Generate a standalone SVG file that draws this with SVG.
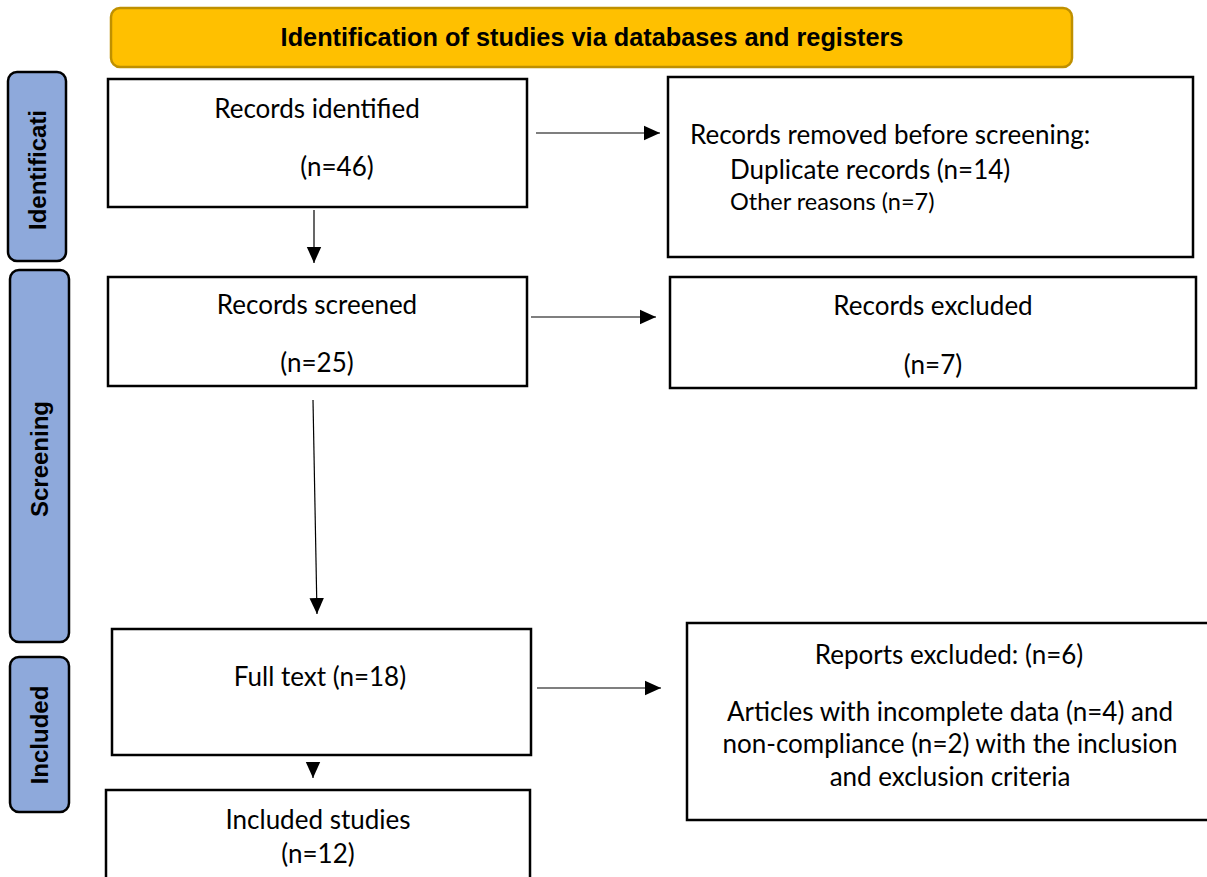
<svg xmlns="http://www.w3.org/2000/svg" width="1207" height="877" viewBox="0 0 1207 877">
<style>
.box{fill:#fff;stroke:#000;stroke-width:2.5}
.phase{fill:#8EA9DB;stroke:#000;stroke-width:2.5}
.t{font-family:Lato,"Liberation Sans",sans-serif;font-size:26px;fill:#000}
.c{text-anchor:middle}
.ph{font-family:"Liberation Sans",Arial,sans-serif;font-weight:bold;font-size:24px;fill:#000;text-anchor:middle}
.ln{stroke:#000;stroke-width:1.2;fill:none}
</style>
<defs>
<marker id="ahb" viewBox="0 0 10 10" refX="10" refY="5" markerWidth="16" markerHeight="16" orient="auto" markerUnits="userSpaceOnUse">
<path d="M0,0.5 L10,5 L0,9.5 z" fill="#000"/>
</marker>
</defs>
<rect width="1207" height="877" fill="#fff"/>
<g id="banner">
<rect x="111" y="8" width="961" height="59" rx="9" fill="#FFC000" stroke="#BF9000" stroke-width="2.5"/>
<text x="592" y="46" class="ph" style="font-size:25.3px">Identification of studies via databases and registers</text>
</g>
<g id="phase-identification">
<rect class="phase" x="8" y="72" width="58" height="189" rx="9"/>
<text class="ph" transform="translate(46,170) rotate(-90)">Identificati</text>
</g>
<g id="phase-screening">
<rect class="phase" x="10" y="270" width="59" height="372" rx="9"/>
<text class="ph" transform="translate(48,459) rotate(-90)">Screening</text>
</g>
<g id="phase-included">
<rect class="phase" x="10" y="657" width="59" height="155" rx="9"/>
<text class="ph" transform="translate(48,735) rotate(-90)">Included</text>
</g>
<g id="connectors">
<line class="ln" x1="314" y1="210" x2="314" y2="263" marker-end="url(#ahb)"/>
<line class="ln" x1="536" y1="133" x2="660" y2="133" marker-end="url(#ahb)"/>
<line class="ln" x1="531" y1="317" x2="656" y2="317" marker-end="url(#ahb)"/>
<line class="ln" x1="313" y1="400" x2="317" y2="614" marker-end="url(#ahb)"/>
<line class="ln" x1="537" y1="688" x2="661" y2="688" marker-end="url(#ahb)"/>
<line class="ln" x1="313" y1="762" x2="313" y2="778" marker-end="url(#ahb)"/>
</g>
<g id="node-identified">
<rect class="box" x="108" y="79" width="419" height="128"/>
<text class="t c" x="317" y="118">Records identified</text>
<text class="t c" x="337" y="176">(n=46)</text>
</g>
<g id="node-removed">
<rect class="box" x="668" y="77" width="525" height="180"/>
<text class="t" x="690" y="144">Records removed before screening:</text>
<text class="t" x="730" y="179">Duplicate records (n=14)</text>
<text class="t" x="730" y="210" style="font-size:23.5px">Other reasons (n=7)</text>
</g>
<g id="node-screened">
<rect class="box" x="108" y="277" width="419" height="109"/>
<text class="t c" x="317" y="314">Records screened</text>
<text class="t c" x="317" y="372">(n=25)</text>
</g>
<g id="node-excluded">
<rect class="box" x="670" y="277" width="526" height="111"/>
<text class="t c" x="933" y="315">Records excluded</text>
<text class="t c" x="933" y="374">(n=7)</text>
</g>
<g id="node-fulltext">
<rect class="box" x="112" y="629" width="419" height="126"/>
<text class="t c" x="320" y="686">Full text (n=18)</text>
</g>
<g id="node-reports-excluded">
<rect class="box" x="687" y="623" width="525" height="197"/>
<text class="t c" x="949" y="664">Reports excluded: (n=6)</text>
<text class="t c" x="950" y="721">Articles with incomplete data (n=4) and</text>
<text class="t c" x="950" y="753">non-compliance (n=2) with the inclusion</text>
<text class="t c" x="950" y="786">and exclusion criteria</text>
</g>
<g id="node-included">
<rect class="box" x="106" y="790" width="424" height="92"/>
<text class="t c" x="318" y="829">Included studies</text>
<text class="t c" x="318" y="863">(n=12)</text>
</g>
</svg>
